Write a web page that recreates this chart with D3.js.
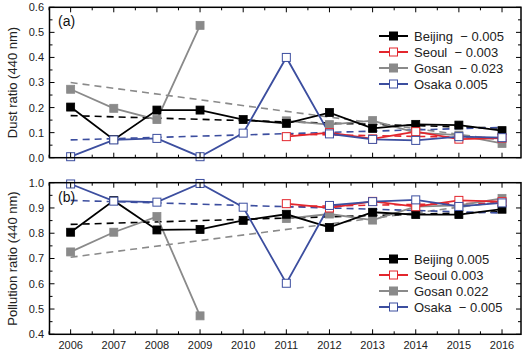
<!DOCTYPE html>
<html><head><meta charset="utf-8">
<script src="https://cdn.jsdelivr.net/npm/d3@7"></script>
<style>html,body{margin:0;padding:0;background:#fff;}svg{display:block;font-family:"Liberation Sans",Arial,sans-serif;}text{white-space:pre;}</style>
</head><body>
<svg id="c" width="529" height="357"></svg>
<script>
const years = [2006,2007,2008,2009,2010,2011,2012,2013,2014,2015,2016];
const cities = ["Beijing","Seoul","Gosan","Osaka"];
// Panel (a): dust ratio
const dustBeijing = [0.202,0.072,0.19,0.19,0.152,0.137,0.18,0.117,0.133,0.13,0.108];
const dustSeoul   = [null,null,null,null,null,0.084,0.1,0.075,0.104,0.074,0.078];
const dustGosan   = [0.273,0.197,0.152,0.528,null,0.147,0.132,0.148,0.1,0.09,0.057];
const dustOsaka   = [0.004,0.071,0.077,0.004,0.098,0.4,0.095,0.073,0.069,0.084,0.08];
// Panel (b): pollution ratio
const polBeijing = [0.804,0.929,0.813,0.815,0.851,0.875,0.823,0.883,0.874,0.874,0.895];
const polSeoul   = [null,null,null,null,null,0.917,0.9,0.926,0.905,0.93,0.925];
const polGosan   = [0.726,0.804,0.866,0.473,null,0.858,0.876,0.852,0.905,0.91,0.938];
const polOsaka   = [0.995,0.927,0.923,0.997,0.903,0.602,0.91,0.925,0.932,0.906,0.92];
// Trend lines: [startYear, endYear, startValue, endValue]
const dustTrendBeijing = [2006,2016,0.168,0.118];
const dustTrendSeoul   = [2011,2016,0.094,0.079];
const dustTrendGosan   = [2006,2016,0.300,0.070];
const dustTrendOsaka   = [2006,2016,0.071,0.121];
const polTrendBeijing = [2006,2016,0.835,0.885];
const polTrendSeoul   = [2011,2016,0.905,0.92];
const polTrendGosan   = [2006,2016,0.705,0.925];
const polTrendOsaka   = [2006,2016,0.93,0.88];
// Legend labels
const dustLegend = ["Beijing  \u2212 0.005","Seoul  \u2212 0.003","Gosan  \u2212 0.023","Osaka 0.005"];
const polLegend  = ["Beijing 0.005","Seoul 0.003","Gosan 0.022","Osaka  \u2212 0.005"];
const dustTicks = [0.0,0.1,0.2,0.3,0.4,0.5,0.6];
const polTicks  = [0.4,0.5,0.6,0.7,0.8,0.9,1.0];

const colors = {Beijing:"#000000", Seoul:"#e3262d", Gosan:"#8a8a8a", Osaka:"#3c4e9f"};
const filled = {Beijing:true, Seoul:false, Gosan:true, Osaka:false};

const svg = d3.select("#c");
const x = d3.scaleLinear().domain([2005.51,2016.44]).range([49.5,521]);

function panel(opts){
  const y = d3.scaleLinear().domain(opts.domain).range([opts.bottom, opts.top]);
  const g = svg.append("g");
  const series = {Beijing:opts.data[0], Seoul:opts.data[1], Gosan:opts.data[2], Osaka:opts.data[3]};
  const trends = {Beijing:opts.trends[0], Seoul:opts.trends[1], Gosan:opts.trends[2], Osaka:opts.trends[3]};
  const drawOrder = ["Gosan","Beijing","Seoul","Osaka"];
  drawOrder.forEach(c=>{
    const t = trends[c];
    g.append("line").attr("x1",x(t[0])).attr("x2",x(t[1])).attr("y1",y(t[2])).attr("y2",y(t[3]))
      .attr("stroke",colors[c]).attr("stroke-width",1.6).attr("stroke-dasharray","7,5");
  });
  const line = d3.line().defined(d=>d.v!=null).x(d=>x(d.yr)).y(d=>y(d.v));
  drawOrder.forEach(c=>{
    const pts = years.map((yr,i)=>({yr, v:series[c][i]}));
    g.append("path").datum(pts).attr("d",line).attr("fill","none")
      .attr("stroke",colors[c]).attr("stroke-width",1.8);
  });
  drawOrder.forEach(c=>{
    const pts = years.map((yr,i)=>({yr, v:series[c][i]})).filter(d=>d.v!=null);
    g.selectAll(null).data(pts).enter().append("rect")
      .attr("x",d=>x(d.yr)-4).attr("y",d=>y(d.v)-4).attr("width",8).attr("height",8)
      .attr("fill",filled[c]?colors[c]:"#fff").attr("stroke",colors[c]).attr("stroke-width",filled[c]?0.8:1);
  });
  const xTicks = d3.range(2006,2017);
  const xMinor = d3.range(2005.5,2016.5,0.5).filter(v=>!Number.isInteger(v));
  const step = opts.tickValues[1]-opts.tickValues[0];
  const yMinor = opts.tickValues.slice(0,-1).map(v=>v+step/2);
  const ax = g.append("g");
  function tk(x1,y1,x2,y2){ax.append("line").attr("x1",x1).attr("y1",y1).attr("x2",x2).attr("y2",y2).attr("stroke","#000").attr("stroke-width",1);}
  xTicks.forEach(v=>{tk(x(v),opts.bottom,x(v),opts.bottom-5);tk(x(v),opts.top,x(v),opts.top+5);});
  xMinor.forEach(v=>{tk(x(v),opts.bottom,x(v),opts.bottom-3);tk(x(v),opts.top,x(v),opts.top+3);});
  opts.tickValues.forEach(v=>{tk(49.5,y(v),54.5,y(v));tk(521,y(v),516,y(v));});
  yMinor.forEach(v=>{tk(49.5,y(v),52.5,y(v));tk(521,y(v),518,y(v));});
  ax.append("rect").attr("x",49.5).attr("y",opts.top).attr("width",521-49.5).attr("height",opts.bottom-opts.top)
    .attr("fill","none").attr("stroke","#000").attr("stroke-width",1.5);
  opts.tickValues.forEach(v=>{
    ax.append("text").attr("x",44).attr("y",y(v)).attr("dy","0.36em").attr("text-anchor","end")
      .attr("font-size",11).attr("fill","#222").text(d3.format(".1f")(v));
  });
  if(opts.xLabels){
    xTicks.forEach(v=>{
      ax.append("text").attr("x",x(v)).attr("y",opts.bottom+15).attr("text-anchor","middle")
        .attr("font-size",11).attr("fill","#222").text(v);
    });
  }
  ax.append("text").attr("transform",`translate(${opts.titleX},${(opts.top+opts.bottom)/2}) rotate(-90)`)
    .attr("text-anchor","middle").attr("font-size",13).attr("fill","#222").text(opts.title);
  ax.append("text").attr("x",58).attr("y",opts.top+ (opts.labelDy)).attr("font-size",14).attr("fill","#111").text(opts.label);
  cities.forEach((c,i)=>{
    const ly = opts.legendY + i*16;
    const lg = ax.append("g");
    lg.append("line").attr("x1",379).attr("x2",408).attr("y1",ly).attr("y2",ly).attr("stroke",colors[c]).attr("stroke-width",2);
    lg.append("rect").attr("x",389.5).attr("y",ly-4).attr("width",8).attr("height",8)
      .attr("fill",filled[c]?colors[c]:"#fff").attr("stroke",colors[c]).attr("stroke-width",1);
    lg.append("text").attr("x",414).attr("y",ly).attr("dy","0.36em").attr("font-size",13).attr("fill","#222").text(opts.legend[i]);
  });
}

panel({domain:[0,0.6], top:7.3, bottom:157.7, tickValues:dustTicks,
  data:[dustBeijing,dustSeoul,dustGosan,dustOsaka],
  trends:[dustTrendBeijing,dustTrendSeoul,dustTrendGosan,dustTrendOsaka],
  legend:dustLegend, legendY:36, title:"Dust ratio (440 nm)", titleX:17, label:"(a)", labelDy:19, xLabels:false});
panel({domain:[0.4,1.0], top:182.7, bottom:334.3, tickValues:polTicks,
  data:[polBeijing,polSeoul,polGosan,polOsaka],
  trends:[polTrendBeijing,polTrendSeoul,polTrendGosan,polTrendOsaka],
  legend:polLegend, legendY:259, title:"Pollution ratio (440 nm)", titleX:17, label:"(b)", labelDy:19, xLabels:true});
</script>
</body></html>
